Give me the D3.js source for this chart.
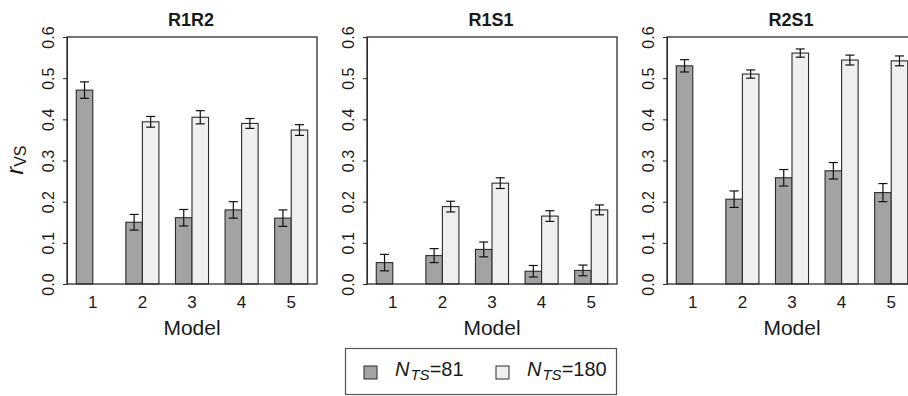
<!DOCTYPE html>
<html>
<head>
<meta charset="utf-8">
<script src="https://cdn.jsdelivr.net/npm/d3@7"></script>
<style>
  html, body { margin: 0; padding: 0; background: #fff; }
  svg { display: block; font-family: "Liberation Sans", Arial, sans-serif; }
</style>
</head>
<body>
<svg id="chart" width="908" height="396"></svg>
<script>
// ---------------- data ----------------
const panelTitles = ["R1R2", "R1S1", "R2S1"];
const models = ["1", "2", "3", "4", "5"];
const yTickValues = [0.0, 0.1, 0.2, 0.3, 0.4, 0.5, 0.6];
const seriesLabels = ["81", "180"];

// N_TS = 81 (dark bars)
const r1r2_81 = [0.471, 0.150, 0.161, 0.180, 0.160];
const r1r2_81_err = [0.020, 0.019, 0.020, 0.020, 0.020];
const r1s1_81 = [0.052, 0.069, 0.084, 0.031, 0.033];
const r1s1_81_err = [0.020, 0.017, 0.018, 0.014, 0.013];
const r2s1_81 = [0.530, 0.206, 0.258, 0.275, 0.222];
const r2s1_81_err = [0.015, 0.020, 0.020, 0.020, 0.022];

// N_TS = 180 (light bars); model 1 has no value
const r1r2_180 = [null, 0.394, 0.405, 0.390, 0.374];
const r1r2_180_err = [null, 0.013, 0.016, 0.012, 0.013];
const r1s1_180 = [null, 0.188, 0.245, 0.165, 0.180];
const r1s1_180_err = [null, 0.013, 0.013, 0.013, 0.012];
const r2s1_180 = [null, 0.510, 0.561, 0.544, 0.542];
const r2s1_180_err = [null, 0.010, 0.010, 0.012, 0.012];

const panelData = [
  { s81: r1r2_81, e81: r1r2_81_err, s180: r1r2_180, e180: r1r2_180_err },
  { s81: r1s1_81, e81: r1s1_81_err, s180: r1s1_180, e180: r1s1_180_err },
  { s81: r2s1_81, e81: r2s1_81_err, s180: r2s1_180, e180: r2s1_180_err }
];

// ---------------- layout ----------------
const svg = d3.select("#chart");
const panelLeft = [67, 367, 667];
const plotTop = 37, plotBottom = 284, plotW = 250;
const fillDark = "#a3a3a3", fillLight = "#efefef";
const lineCol = "#2b2b2b", textCol = "#1a1a1a";

const y = d3.scaleLinear().domain([0, 0.6]).range([plotBottom, plotTop]);

panelTitles.forEach((title, p) => {
  const x0 = panelLeft[p];
  // bar slot units: group g → dark at 3g+1, light at 3g+2 (width 1)
  const x = d3.scaleLinear().domain([0.44, 15.56]).range([x0, x0 + plotW]);
  const g = svg.append("g");
  const d = panelData[p];

  const bars = [];
  models.forEach((m, i) => {
    if (d.s81[i] != null) bars.push({ u: 3 * i + 1, v: d.s81[i], e: d.e81[i], fill: fillDark });
    if (d.s180[i] != null) bars.push({ u: 3 * i + 2, v: d.s180[i], e: d.e180[i], fill: fillLight });
  });

  g.selectAll("rect.bar").data(bars).join("rect")
    .attr("class", "bar")
    .attr("x", b => x(b.u))
    .attr("width", b => x(b.u + 1) - x(b.u))
    .attr("y", b => y(b.v))
    .attr("height", b => y(0) - y(b.v))
    .attr("fill", b => b.fill)
    .attr("stroke", lineCol)
    .attr("stroke-width", 1.1);

  // error bars
  const eb = g.selectAll("g.err").data(bars).join("g").attr("class", "err")
    .attr("stroke", "#111").attr("stroke-width", 1.2);
  eb.append("line")
    .attr("x1", b => x(b.u + 0.5)).attr("x2", b => x(b.u + 0.5))
    .attr("y1", b => y(b.v + b.e)).attr("y2", b => y(b.v - b.e));
  eb.append("line")
    .attr("x1", b => x(b.u + 0.5) - 4.5).attr("x2", b => x(b.u + 0.5) + 4.5)
    .attr("y1", b => y(b.v + b.e)).attr("y2", b => y(b.v + b.e));
  eb.append("line")
    .attr("x1", b => x(b.u + 0.5) - 4.5).attr("x2", b => x(b.u + 0.5) + 4.5)
    .attr("y1", b => y(b.v - b.e)).attr("y2", b => y(b.v - b.e));

  // plot box
  g.append("rect")
    .attr("x", x.range()[0]).attr("y", plotTop)
    .attr("width", plotW).attr("height", plotBottom - plotTop)
    .attr("fill", "none").attr("stroke", lineCol).attr("stroke-width", 1.3);

  // y axis
  const yAxis = d3.axisLeft(y).tickValues(yTickValues)
    .tickFormat(d3.format(".1f")).tickSize(4).tickSizeOuter(0);
  const ya = g.append("g").attr("transform", `translate(${x0},0)`).call(yAxis);
  ya.select(".domain").attr("stroke", lineCol);
  ya.selectAll(".tick line").attr("stroke", lineCol);
  ya.selectAll(".tick text")
    .attr("x", null).attr("dy", null)
    .attr("transform", "translate(-13,0) rotate(-90)")
    .attr("text-anchor", "middle")
    .attr("fill", textCol)
    .style("font-size", "16px")
    .style("font-family", "'Liberation Sans', Arial, sans-serif");

  // x tick labels (no tick marks)
  g.selectAll("text.xl").data(models).join("text")
    .attr("class", "xl")
    .attr("x", (m, i) => x(3 * i + 2))
    .attr("y", 307.5)
    .attr("text-anchor", "middle")
    .attr("fill", textCol)
    .style("font-size", "17px")
    .text(m => m);

  g.append("text")
    .attr("x", x0 + plotW / 2).attr("y", 334.5)
    .attr("text-anchor", "middle").attr("fill", textCol)
    .style("font-size", "21px")
    .text("Model");

  g.append("text")
    .attr("x", x0 + plotW / 2 - 1).attr("y", 26)
    .attr("text-anchor", "middle").attr("fill", textCol)
    .style("font-size", "18px").style("font-weight", "bold")
    .text(title);
});

// y label r_VS
const yl = svg.append("text")
  .attr("transform", "translate(23,160) rotate(-90)")
  .attr("text-anchor", "middle").attr("fill", textCol);
yl.append("tspan").style("font-style", "italic").style("font-size", "23px").text("r");
yl.append("tspan").attr("dy", 3).style("font-size", "16px").text("VS");

// legend
const leg = svg.append("g");
leg.append("rect").attr("x", 345.5).attr("y", 348.5).attr("width", 271).attr("height", 46)
  .attr("fill", "#fff").attr("stroke", "#555").attr("stroke-width", 1.2);
const legItems = [
  { lab: seriesLabels[0], fill: fillDark, x: 364 },
  { lab: seriesLabels[1], fill: fillLight, x: 496 }
];
legItems.forEach(it => {
  leg.append("rect").attr("x", it.x).attr("y", 366).attr("width", 13).attr("height", 13)
    .attr("fill", it.fill).attr("stroke", lineCol).attr("stroke-width", 1);
  const t = leg.append("text").attr("x", it.x + 31).attr("y", 376)
    .attr("fill", textCol).style("font-size", "20px");
  t.append("tspan").style("font-style", "italic").text("N");
  t.append("tspan").attr("dx", 1).attr("dy", 4).style("font-style", "italic").style("font-size", "15px").text("TS");
  t.append("tspan").attr("dy", -4).text("=" + it.lab);
});
</script>
</body>
</html>
